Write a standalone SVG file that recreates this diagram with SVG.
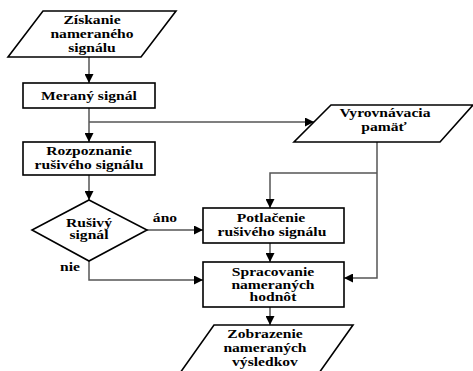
<svg xmlns="http://www.w3.org/2000/svg" width="473" height="371" viewBox="0 0 473 371">
<defs>
<marker id="arr" viewBox="0 0 10 10" refX="10" refY="5" markerWidth="9" markerHeight="9" markerUnits="userSpaceOnUse" orient="auto">
<path d="M0,0 L10,5 L0,10 z" fill="#000"/>
</marker>
<style>
.shape{fill:#fff;stroke:#000;stroke-width:1.6}
.conn{fill:none;stroke:#555;stroke-width:1.5;marker-end:url(#arr)}
text{font-family:"Liberation Serif","Times New Roman",serif;font-weight:bold;font-size:12px;fill:#000;text-anchor:middle;transform-box:fill-box;transform-origin:center;transform:scaleX(1.3)}
</style>
</defs>
<rect width="473" height="371" fill="#fff"/>
<g id="connectors">
<path class="conn" d="M89,57 V83"/>
<path class="conn" d="M89,108 V142"/>
<path class="conn" d="M89,122 H314"/>
<path class="conn" d="M89,175 V200"/>
<path class="conn" d="M147,230 H203"/>
<path class="conn" d="M89,261 V280 H203"/>
<path class="conn" d="M377,142 V278 H344"/>
<path class="conn" d="M377,173 H270 V208"/>
<path class="conn" d="M270,243 V262"/>
<path class="conn" d="M270,307 V325"/>
<text x="165" y="222">áno</text>
<text x="70" y="271">nie</text>
</g>
<g id="ziskanie">
<polygon class="shape" points="43,11 176,11 141,57 8,57"/>
<text x="92" y="24">Získanie</text>
<text x="92" y="38">nameraného</text>
<text x="92" y="52">signálu</text>
</g>
<g id="merany">
<rect class="shape" x="23" y="83" width="132" height="25"/>
<text x="89" y="100">Meraný signál</text>
</g>
<g id="rozpoznanie">
<rect class="shape" x="23" y="142" width="132" height="33"/>
<text x="89" y="155">Rozpoznanie</text>
<text x="89" y="169">rušivého signálu</text>
</g>
<g id="rusivy">
<polygon class="shape" points="89,200 147,230 89,261 32,230"/>
<text x="89" y="227">Rušivý</text>
<text x="89" y="239">signál</text>
</g>
<g id="vyrovnavacia">
<polygon class="shape" points="331,105 473,105 440,142 294,142"/>
<text x="385" y="117">Vyrovnávacia</text>
<text x="384" y="131">pamäť</text>
</g>
<g id="potlacenie">
<rect class="shape" x="203" y="208" width="141" height="35"/>
<text x="271" y="222">Potlačenie</text>
<text x="272" y="236">rušivého signálu</text>
</g>
<g id="spracovanie">
<rect class="shape" x="203" y="262" width="141" height="45"/>
<text x="273" y="276">Spracovanie</text>
<text x="273" y="289">nameraných</text>
<text x="273" y="301">hodnôt</text>
</g>
<g id="zobrazenie">
<polygon class="shape" points="214,325 353,325 319,373 180,373"/>
<text x="265" y="338">Zobrazenie</text>
<text x="265" y="352">nameraných</text>
<text x="265" y="366">výsledkov</text>
</g>
</svg>
